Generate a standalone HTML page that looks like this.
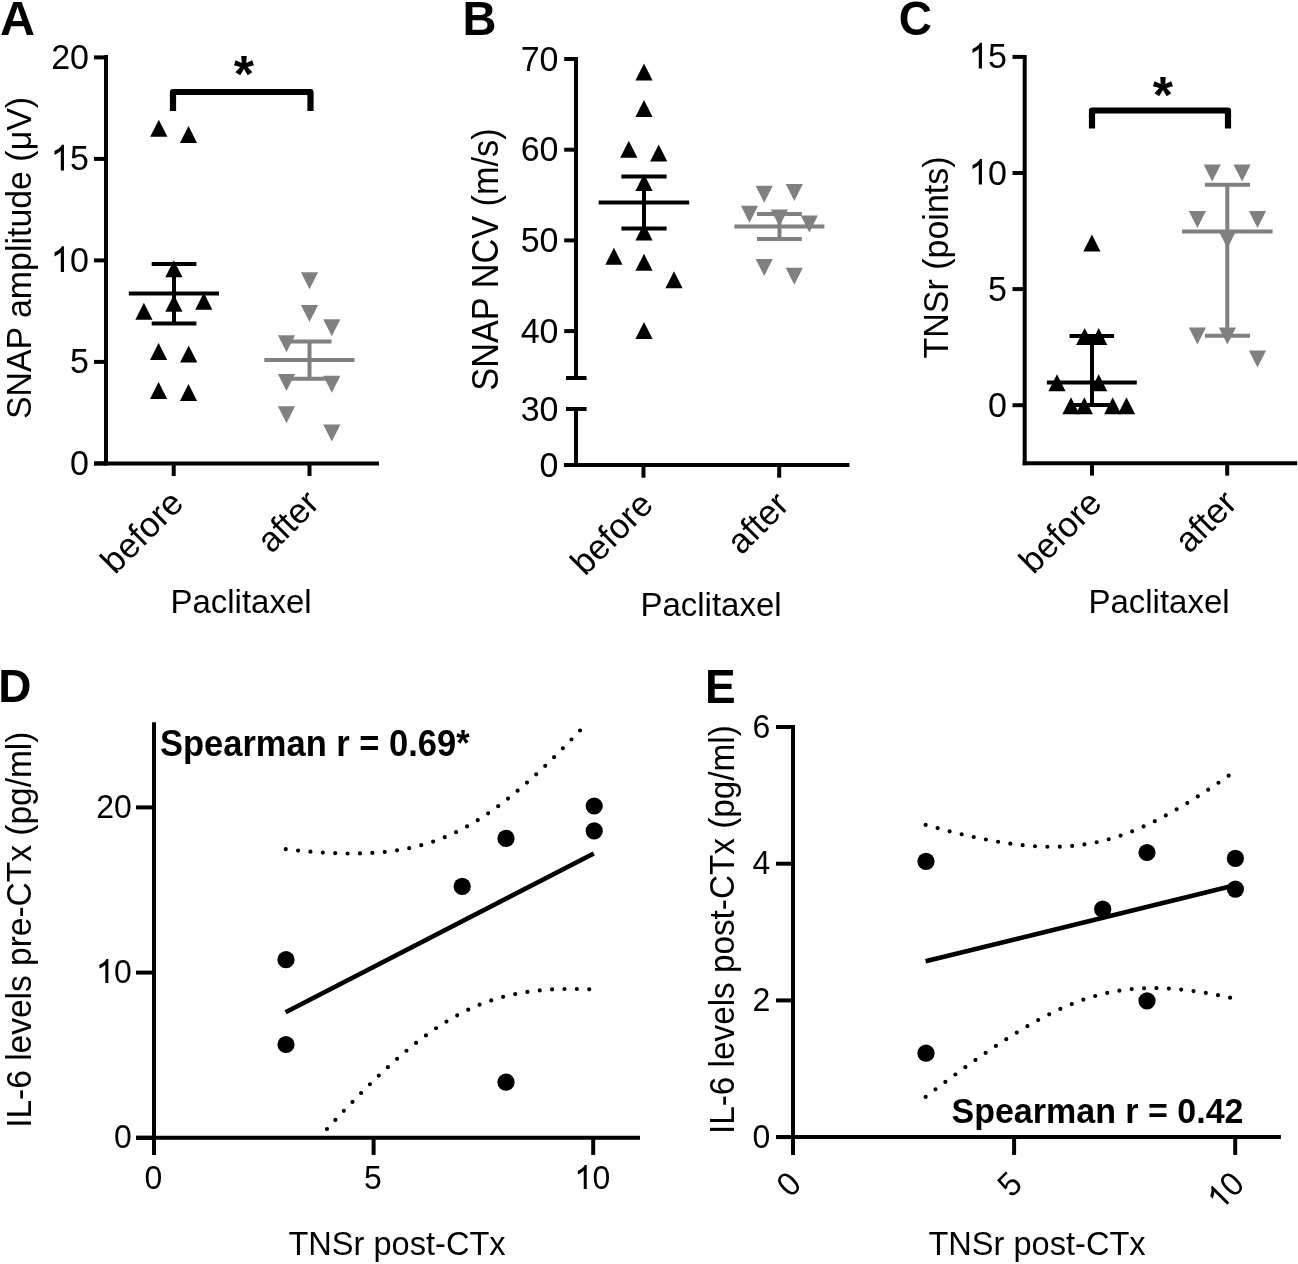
<!DOCTYPE html>
<html><head><meta charset="utf-8"><title>Figure</title>
<style>html,body{margin:0;padding:0;background:#fff;}svg{display:block;will-change:transform;}text{font-family:"Liberation Sans", sans-serif;fill:#000;}</style>
</head><body>
<svg width="1298" height="1264" viewBox="0 0 1298 1264">
<rect width="1298" height="1264" fill="#fff"/>
<text transform="translate(0.00 35.10) scale(1 1.01)" font-size="48.5" text-anchor="start" font-weight="bold">A</text>
<text transform="translate(462.50 34.90) scale(1 1.02)" font-size="47" text-anchor="start" font-weight="bold">B</text>
<text transform="translate(898.80 34.60) scale(1 1.05)" font-size="46" text-anchor="start" font-weight="bold">C</text>
<text transform="translate(-1.80 701.90) scale(1 0.99)" font-size="46" text-anchor="start" font-weight="bold">D</text>
<text transform="translate(704.90 703.30) scale(1 1.04)" font-size="46" text-anchor="start" font-weight="bold">E</text>
<line x1="106.0" y1="55.0" x2="106.0" y2="465.4" stroke="#000" stroke-width="4" stroke-linecap="butt"/>
<line x1="94.0" y1="463.4" x2="379.0" y2="463.4" stroke="#000" stroke-width="4" stroke-linecap="butt"/>
<line x1="94.0" y1="463.4" x2="106.0" y2="463.4" stroke="#000" stroke-width="4" stroke-linecap="butt"/>
<g transform="translate(89.00 474.90) scale(1 1.05)"><text x="-18.91" y="0" font-size="34" text-anchor="start">0</text></g>
<line x1="94.0" y1="361.9" x2="106.0" y2="361.9" stroke="#000" stroke-width="4" stroke-linecap="butt"/>
<g transform="translate(89.00 373.40) scale(1 1.05)"><text x="-18.91" y="0" font-size="34" text-anchor="start">5</text></g>
<line x1="94.0" y1="260.4" x2="106.0" y2="260.4" stroke="#000" stroke-width="4" stroke-linecap="butt"/>
<g transform="translate(89.00 271.90) scale(1 1.05)"><path d="M578 0L771 0L771 1466L646 1466C600 1370 520 1290 420 1225C340 1175 260 1140 200 1115L200 890C300 930 420 1000 500 1055C540 1085 565 1110 578 1125Z" transform="translate(-37.82 0) scale(0.01660 -0.01660)"/><text x="-18.91" y="0" font-size="34" text-anchor="start">0</text></g>
<line x1="94.0" y1="158.9" x2="106.0" y2="158.9" stroke="#000" stroke-width="4" stroke-linecap="butt"/>
<g transform="translate(89.00 170.40) scale(1 1.05)"><path d="M578 0L771 0L771 1466L646 1466C600 1370 520 1290 420 1225C340 1175 260 1140 200 1115L200 890C300 930 420 1000 500 1055C540 1085 565 1110 578 1125Z" transform="translate(-37.82 0) scale(0.01660 -0.01660)"/><text x="-18.91" y="0" font-size="34" text-anchor="start">5</text></g>
<line x1="94.0" y1="57.4" x2="106.0" y2="57.4" stroke="#000" stroke-width="4" stroke-linecap="butt"/>
<g transform="translate(89.00 68.90) scale(1 1.05)"><text x="-37.82" y="0" font-size="34" text-anchor="start">2</text><text x="-18.91" y="0" font-size="34" text-anchor="start">0</text></g>
<line x1="173.7" y1="463.4" x2="173.7" y2="476.0" stroke="#000" stroke-width="4" stroke-linecap="butt"/>
<line x1="309.5" y1="463.4" x2="309.5" y2="476.0" stroke="#000" stroke-width="4" stroke-linecap="butt"/>
<path d="M173 111V92H310.5V111" fill="none" stroke="#000" stroke-width="6.2" stroke-linejoin="round"/>
<text transform="translate(243.90 92.00)" font-size="52" text-anchor="middle" font-weight="bold">*</text>
<path d="M158.8 119.8L167.4 136.8L150.2 136.8Z" fill="#000"/>
<path d="M188.5 126.1L197.1 143.1L179.9 143.1Z" fill="#000"/>
<path d="M173.9 260.3L182.5 277.3L165.3 277.3Z" fill="#000"/>
<path d="M173.9 294.7L182.5 311.7L165.3 311.7Z" fill="#000"/>
<path d="M203.8 292.7L212.4 309.7L195.2 309.7Z" fill="#000"/>
<path d="M143.9 302.7L152.5 319.7L135.3 319.7Z" fill="#000"/>
<path d="M158.6 343.1L167.2 360.1L150.0 360.1Z" fill="#000"/>
<path d="M188.7 345.4L197.3 362.4L180.1 362.4Z" fill="#000"/>
<path d="M158.6 382.1L167.2 399.1L150.0 399.1Z" fill="#000"/>
<path d="M188.5 384.1L197.1 401.1L179.9 401.1Z" fill="#000"/>
<line x1="128.8" y1="293.4" x2="219.0" y2="293.4" stroke="#000" stroke-width="4" stroke-linecap="butt"/>
<line x1="151.7" y1="263.9" x2="196.4" y2="263.9" stroke="#000" stroke-width="4" stroke-linecap="butt"/>
<line x1="151.7" y1="323.6" x2="196.4" y2="323.6" stroke="#000" stroke-width="4" stroke-linecap="butt"/>
<line x1="174.0" y1="263.9" x2="174.0" y2="323.6" stroke="#000" stroke-width="4" stroke-linecap="butt"/>
<path d="M300.9 272.2L318.1 272.2L309.5 289.2Z" fill="#808080"/>
<path d="M300.9 304.9L318.1 304.9L309.5 321.9Z" fill="#808080"/>
<path d="M323.2 319.2L340.4 319.2L331.8 336.2Z" fill="#808080"/>
<path d="M277.9 335.2L295.1 335.2L286.5 352.2Z" fill="#808080"/>
<path d="M277.9 374.0L295.1 374.0L286.5 391.0Z" fill="#808080"/>
<path d="M323.2 375.7L340.4 375.7L331.8 392.7Z" fill="#808080"/>
<path d="M277.9 406.2L295.1 406.2L286.5 423.2Z" fill="#808080"/>
<path d="M323.2 424.5L340.4 424.5L331.8 441.5Z" fill="#808080"/>
<line x1="264.3" y1="360.0" x2="354.4" y2="360.0" stroke="#808080" stroke-width="4" stroke-linecap="butt"/>
<line x1="287.5" y1="341.5" x2="331.5" y2="341.5" stroke="#808080" stroke-width="4" stroke-linecap="butt"/>
<line x1="287.5" y1="378.7" x2="331.5" y2="378.7" stroke="#808080" stroke-width="4" stroke-linecap="butt"/>
<line x1="309.5" y1="341.5" x2="309.5" y2="378.7" stroke="#808080" stroke-width="4" stroke-linecap="butt"/>
<text transform="translate(30.90 258.00) rotate(-90) scale(1 1.05)" font-size="33.9" text-anchor="middle" font-weight="normal">SNAP amplitude (μV)</text>
<text transform="translate(241.00 613.30) scale(1 1.03)" font-size="33" text-anchor="middle" font-weight="normal">Paclitaxel</text>
<text transform="translate(185.30 505.00) rotate(-45)" font-size="35" text-anchor="end" font-weight="normal">before</text>
<text transform="translate(321.10 505.00) rotate(-45)" font-size="35" text-anchor="end" font-weight="normal">after</text>
<line x1="576.0" y1="57.0" x2="576.0" y2="380.0" stroke="#000" stroke-width="4" stroke-linecap="butt"/>
<line x1="576.0" y1="407.0" x2="576.0" y2="465.0" stroke="#000" stroke-width="4" stroke-linecap="butt"/>
<line x1="563.9" y1="465.0" x2="849.4" y2="465.0" stroke="#000" stroke-width="4" stroke-linecap="butt"/>
<line x1="564.2" y1="59.0" x2="576.0" y2="59.0" stroke="#000" stroke-width="4" stroke-linecap="butt"/>
<g transform="translate(558.50 70.50) scale(1 1.05)"><text x="-37.82" y="0" font-size="34" text-anchor="start">7</text><text x="-18.91" y="0" font-size="34" text-anchor="start">0</text></g>
<line x1="564.2" y1="149.7" x2="576.0" y2="149.7" stroke="#000" stroke-width="4" stroke-linecap="butt"/>
<g transform="translate(558.50 161.20) scale(1 1.05)"><text x="-37.82" y="0" font-size="34" text-anchor="start">6</text><text x="-18.91" y="0" font-size="34" text-anchor="start">0</text></g>
<line x1="564.2" y1="240.4" x2="576.0" y2="240.4" stroke="#000" stroke-width="4" stroke-linecap="butt"/>
<g transform="translate(558.50 251.90) scale(1 1.05)"><text x="-37.82" y="0" font-size="34" text-anchor="start">5</text><text x="-18.91" y="0" font-size="34" text-anchor="start">0</text></g>
<line x1="564.2" y1="331.1" x2="576.0" y2="331.1" stroke="#000" stroke-width="4" stroke-linecap="butt"/>
<g transform="translate(558.50 342.60) scale(1 1.05)"><text x="-37.82" y="0" font-size="34" text-anchor="start">4</text><text x="-18.91" y="0" font-size="34" text-anchor="start">0</text></g>
<line x1="566.0" y1="378.0" x2="586.6" y2="378.0" stroke="#000" stroke-width="4" stroke-linecap="butt"/>
<line x1="566.0" y1="409.0" x2="586.6" y2="409.0" stroke="#000" stroke-width="4" stroke-linecap="butt"/>
<g transform="translate(558.50 420.50) scale(1 1.05)"><text x="-37.82" y="0" font-size="34" text-anchor="start">3</text><text x="-18.91" y="0" font-size="34" text-anchor="start">0</text></g>
<g transform="translate(558.50 476.50) scale(1 1.05)"><text x="-18.91" y="0" font-size="34" text-anchor="start">0</text></g>
<line x1="643.5" y1="465.0" x2="643.5" y2="477.7" stroke="#000" stroke-width="4" stroke-linecap="butt"/>
<line x1="779.2" y1="465.0" x2="779.2" y2="477.7" stroke="#000" stroke-width="4" stroke-linecap="butt"/>
<path d="M644.0 63.4L652.6 80.4L635.4 80.4Z" fill="#000"/>
<path d="M644.0 99.9L652.6 116.9L635.4 116.9Z" fill="#000"/>
<path d="M628.8 140.7L637.4 157.7L620.2 157.7Z" fill="#000"/>
<path d="M658.7 144.6L667.3 161.6L650.1 161.6Z" fill="#000"/>
<path d="M644.0 174.1L652.6 191.1L635.4 191.1Z" fill="#000"/>
<path d="M644.0 223.5L652.6 240.5L635.4 240.5Z" fill="#000"/>
<path d="M613.9 247.7L622.5 264.7L605.3 264.7Z" fill="#000"/>
<path d="M644.0 253.8L652.6 270.8L635.4 270.8Z" fill="#000"/>
<path d="M674.0 271.3L682.6 288.3L665.4 288.3Z" fill="#000"/>
<path d="M644.0 321.9L652.6 338.9L635.4 338.9Z" fill="#000"/>
<line x1="598.7" y1="202.4" x2="689.2" y2="202.4" stroke="#000" stroke-width="4" stroke-linecap="butt"/>
<line x1="621.4" y1="176.6" x2="666.6" y2="176.6" stroke="#000" stroke-width="4" stroke-linecap="butt"/>
<line x1="621.4" y1="228.6" x2="666.6" y2="228.6" stroke="#000" stroke-width="4" stroke-linecap="butt"/>
<line x1="644.0" y1="176.6" x2="644.0" y2="228.6" stroke="#000" stroke-width="4" stroke-linecap="butt"/>
<path d="M755.6 185.7L772.8 185.7L764.2 202.7Z" fill="#808080"/>
<path d="M785.7 183.9L802.9 183.9L794.3 200.9Z" fill="#808080"/>
<path d="M740.9 205.8L758.1 205.8L749.5 222.8Z" fill="#808080"/>
<path d="M770.8 209.4L788.0 209.4L779.4 226.4Z" fill="#808080"/>
<path d="M800.7 215.5L817.9 215.5L809.3 232.5Z" fill="#808080"/>
<path d="M755.6 258.9L772.8 258.9L764.2 275.9Z" fill="#808080"/>
<path d="M785.7 267.8L802.9 267.8L794.3 284.8Z" fill="#808080"/>
<line x1="734.4" y1="226.5" x2="824.4" y2="226.5" stroke="#808080" stroke-width="4" stroke-linecap="butt"/>
<line x1="757.0" y1="214.0" x2="801.8" y2="214.0" stroke="#808080" stroke-width="4" stroke-linecap="butt"/>
<line x1="757.0" y1="239.0" x2="801.8" y2="239.0" stroke="#808080" stroke-width="4" stroke-linecap="butt"/>
<line x1="779.5" y1="214.0" x2="779.5" y2="239.0" stroke="#808080" stroke-width="4" stroke-linecap="butt"/>
<text transform="translate(497.80 259.50) rotate(-90) scale(1 1.05)" font-size="34.3" text-anchor="middle" font-weight="normal">SNAP NCV (m/s)</text>
<text transform="translate(711.00 615.80) scale(1 1.03)" font-size="33" text-anchor="middle" font-weight="normal">Paclitaxel</text>
<text transform="translate(655.10 506.50) rotate(-45)" font-size="35" text-anchor="end" font-weight="normal">before</text>
<text transform="translate(790.80 506.50) rotate(-45)" font-size="35" text-anchor="end" font-weight="normal">after</text>
<line x1="1024.7" y1="55.0" x2="1024.7" y2="465.3" stroke="#000" stroke-width="4" stroke-linecap="butt"/>
<line x1="1022.7" y1="463.3" x2="1297.2" y2="463.3" stroke="#000" stroke-width="4" stroke-linecap="butt"/>
<line x1="1012.5" y1="405.2" x2="1024.7" y2="405.2" stroke="#000" stroke-width="4" stroke-linecap="butt"/>
<g transform="translate(1007.00 416.70) scale(1 1.05)"><text x="-18.91" y="0" font-size="34" text-anchor="start">0</text></g>
<line x1="1012.5" y1="289.1" x2="1024.7" y2="289.1" stroke="#000" stroke-width="4" stroke-linecap="butt"/>
<g transform="translate(1007.00 300.60) scale(1 1.05)"><text x="-18.91" y="0" font-size="34" text-anchor="start">5</text></g>
<line x1="1012.5" y1="173.0" x2="1024.7" y2="173.0" stroke="#000" stroke-width="4" stroke-linecap="butt"/>
<g transform="translate(1007.00 184.50) scale(1 1.05)"><path d="M578 0L771 0L771 1466L646 1466C600 1370 520 1290 420 1225C340 1175 260 1140 200 1115L200 890C300 930 420 1000 500 1055C540 1085 565 1110 578 1125Z" transform="translate(-37.82 0) scale(0.01660 -0.01660)"/><text x="-18.91" y="0" font-size="34" text-anchor="start">0</text></g>
<line x1="1012.5" y1="56.9" x2="1024.7" y2="56.9" stroke="#000" stroke-width="4" stroke-linecap="butt"/>
<g transform="translate(1007.00 68.40) scale(1 1.05)"><path d="M578 0L771 0L771 1466L646 1466C600 1370 520 1290 420 1225C340 1175 260 1140 200 1115L200 890C300 930 420 1000 500 1055C540 1085 565 1110 578 1125Z" transform="translate(-37.82 0) scale(0.01660 -0.01660)"/><text x="-18.91" y="0" font-size="34" text-anchor="start">5</text></g>
<line x1="1092.0" y1="463.3" x2="1092.0" y2="475.6" stroke="#000" stroke-width="4" stroke-linecap="butt"/>
<line x1="1227.2" y1="463.3" x2="1227.2" y2="475.6" stroke="#000" stroke-width="4" stroke-linecap="butt"/>
<path d="M1092 128.6V110.5H1228V128.6" fill="none" stroke="#000" stroke-width="6.2" stroke-linejoin="round"/>
<text transform="translate(1162.90 113.30)" font-size="52" text-anchor="middle" font-weight="bold">*</text>
<path d="M1091.9 234.4L1100.5 251.4L1083.3 251.4Z" fill="#000"/>
<path d="M1084.7 328.0L1093.3 345.0L1076.1 345.0Z" fill="#000"/>
<path d="M1098.7 328.0L1107.3 345.0L1090.1 345.0Z" fill="#000"/>
<path d="M1057.0 374.2L1065.6 391.2L1048.4 391.2Z" fill="#000"/>
<path d="M1098.7 374.2L1107.3 391.2L1090.1 391.2Z" fill="#000"/>
<path d="M1071.0 397.3L1079.6 414.3L1062.4 414.3Z" fill="#000"/>
<path d="M1084.3 397.3L1092.9 414.3L1075.7 414.3Z" fill="#000"/>
<path d="M1112.7 397.3L1121.3 414.3L1104.1 414.3Z" fill="#000"/>
<path d="M1126.5 397.3L1135.1 414.3L1117.9 414.3Z" fill="#000"/>
<line x1="1046.9" y1="382.5" x2="1136.8" y2="382.5" stroke="#000" stroke-width="4" stroke-linecap="butt"/>
<line x1="1069.5" y1="336.0" x2="1114.1" y2="336.0" stroke="#000" stroke-width="4" stroke-linecap="butt"/>
<line x1="1069.5" y1="405.0" x2="1114.1" y2="405.0" stroke="#000" stroke-width="4" stroke-linecap="butt"/>
<line x1="1092.0" y1="336.0" x2="1092.0" y2="405.0" stroke="#000" stroke-width="4" stroke-linecap="butt"/>
<path d="M1203.6 164.4L1220.8 164.4L1212.2 181.4Z" fill="#808080"/>
<path d="M1233.5 164.4L1250.7 164.4L1242.1 181.4Z" fill="#808080"/>
<path d="M1188.8 210.9L1206.0 210.9L1197.4 227.9Z" fill="#808080"/>
<path d="M1248.9 210.9L1266.1 210.9L1257.5 227.9Z" fill="#808080"/>
<path d="M1218.8 231.3L1236.0 231.3L1227.4 248.3Z" fill="#808080"/>
<path d="M1188.8 327.5L1206.0 327.5L1197.4 344.5Z" fill="#808080"/>
<path d="M1218.8 327.5L1236.0 327.5L1227.4 344.5Z" fill="#808080"/>
<path d="M1248.9 350.5L1266.1 350.5L1257.5 367.5Z" fill="#808080"/>
<line x1="1182.1" y1="231.4" x2="1272.6" y2="231.4" stroke="#808080" stroke-width="4" stroke-linecap="butt"/>
<line x1="1204.9" y1="184.8" x2="1250.0" y2="184.8" stroke="#808080" stroke-width="4" stroke-linecap="butt"/>
<line x1="1204.9" y1="335.8" x2="1250.0" y2="335.8" stroke="#808080" stroke-width="4" stroke-linecap="butt"/>
<line x1="1227.3" y1="184.8" x2="1227.3" y2="335.8" stroke="#808080" stroke-width="4" stroke-linecap="butt"/>
<text transform="translate(948.40 257.50) rotate(-90) scale(1 1.05)" font-size="34" text-anchor="middle" font-weight="normal">TNSr (points)</text>
<text transform="translate(1159.00 613.30) scale(1 1.03)" font-size="33" text-anchor="middle" font-weight="normal">Paclitaxel</text>
<text transform="translate(1103.60 505.00) rotate(-45)" font-size="35" text-anchor="end" font-weight="normal">before</text>
<text transform="translate(1238.80 505.00) rotate(-45)" font-size="35" text-anchor="end" font-weight="normal">after</text>
<line x1="154.0" y1="722.2" x2="154.0" y2="1154.9" stroke="#000" stroke-width="4" stroke-linecap="butt"/>
<line x1="136.0" y1="1137.8" x2="640.0" y2="1137.8" stroke="#000" stroke-width="4" stroke-linecap="butt"/>
<line x1="136.0" y1="1137.8" x2="154.0" y2="1137.8" stroke="#000" stroke-width="4" stroke-linecap="butt"/>
<g transform="translate(131.90 1148.30) scale(1 1.05)"><text x="-17.80" y="0" font-size="32" text-anchor="start">0</text></g>
<line x1="136.0" y1="972.6" x2="154.0" y2="972.6" stroke="#000" stroke-width="4" stroke-linecap="butt"/>
<g transform="translate(131.90 983.10) scale(1 1.05)"><path d="M578 0L771 0L771 1466L646 1466C600 1370 520 1290 420 1225C340 1175 260 1140 200 1115L200 890C300 930 420 1000 500 1055C540 1085 565 1110 578 1125Z" transform="translate(-35.59 0) scale(0.01562 -0.01562)"/><text x="-17.80" y="0" font-size="32" text-anchor="start">0</text></g>
<line x1="136.0" y1="807.4" x2="154.0" y2="807.4" stroke="#000" stroke-width="4" stroke-linecap="butt"/>
<g transform="translate(131.90 817.90) scale(1 1.05)"><text x="-35.59" y="0" font-size="32" text-anchor="start">2</text><text x="-17.80" y="0" font-size="32" text-anchor="start">0</text></g>
<line x1="373.6" y1="1137.8" x2="373.6" y2="1154.9" stroke="#000" stroke-width="4" stroke-linecap="butt"/>
<line x1="593.2" y1="1137.8" x2="593.2" y2="1154.9" stroke="#000" stroke-width="4" stroke-linecap="butt"/>
<g transform="translate(153.30 1189.00) scale(1 1.05)"><text x="-8.90" y="0" font-size="32" text-anchor="start">0</text></g>
<g transform="translate(372.90 1189.00) scale(1 1.05)"><text x="-8.90" y="0" font-size="32" text-anchor="start">5</text></g>
<g transform="translate(592.50 1189.00) scale(1 1.05)"><path d="M578 0L771 0L771 1466L646 1466C600 1370 520 1290 420 1225C340 1175 260 1140 200 1115L200 890C300 930 420 1000 500 1055C540 1085 565 1110 578 1125Z" transform="translate(-17.80 0) scale(0.01562 -0.01562)"/><text x="0.00" y="0" font-size="32" text-anchor="start">0</text></g>
<clipPath id="cD"><rect x="154" y="724.8" width="500" height="413.0"/></clipPath>
<g clip-path="url(#cD)" fill="none" stroke="#000" stroke-width="4.2" stroke-linecap="round" stroke-dasharray="0 12.4"><path d="M285.76 849.20L287.96 849.45L290.15 849.69L292.35 849.93L294.54 850.17L296.74 850.40L298.94 850.62L301.13 850.83L303.33 851.04L305.52 851.24L307.72 851.44L309.92 851.63L312.11 851.81L314.31 851.98L316.50 852.14L318.70 852.30L320.90 852.45L323.09 852.59L325.29 852.72L327.48 852.85L329.68 852.96L331.88 853.06L334.07 853.16L336.27 853.24L338.46 853.32L340.66 853.38L342.86 853.44L345.05 853.48L347.25 853.51L349.44 853.53L351.64 853.53L353.84 853.53L356.03 853.51L358.23 853.48L360.42 853.44L362.62 853.38L364.82 853.31L367.01 853.22L369.21 853.12L371.40 853.00L373.60 852.87L375.80 852.72L377.99 852.55L380.19 852.37L382.38 852.17L384.58 851.95L386.78 851.71L388.97 851.46L391.17 851.18L393.36 850.89L395.56 850.57L397.76 850.24L399.95 849.88L402.15 849.50L404.34 849.10L406.54 848.68L408.74 848.23L410.93 847.76L413.13 847.26L415.32 846.74L417.52 846.20L419.72 845.63L421.91 845.03L424.11 844.41L426.30 843.76L428.50 843.08L430.70 842.38L432.89 841.65L435.09 840.88L437.28 840.09L439.48 839.28L441.68 838.43L443.87 837.55L446.07 836.64L448.26 835.70L450.46 834.73L452.66 833.74L454.85 832.71L457.05 831.65L459.24 830.55L461.44 829.43L463.64 828.28L465.83 827.10L468.03 825.88L470.22 824.64L472.42 823.36L474.62 822.05L476.81 820.72L479.01 819.35L481.20 817.95L483.40 816.53L485.60 815.07L487.79 813.58L489.99 812.07L492.18 810.53L494.38 808.96L496.58 807.36L498.77 805.73L500.97 804.08L503.16 802.40L505.36 800.70L507.56 798.97L509.75 797.21L511.95 795.43L514.14 793.63L516.34 791.80L518.54 789.95L520.73 788.07L522.93 786.18L525.12 784.26L527.32 782.32L529.52 780.36L531.71 778.38L533.91 776.38L536.10 774.36L538.30 772.32L540.50 770.27L542.69 768.19L544.89 766.10L547.08 763.99L549.28 761.86L551.48 759.72L553.67 757.57L555.87 755.39L558.06 753.20L560.26 751.00L562.46 748.78L564.65 746.55L566.85 744.31L569.04 742.05L571.24 739.78L573.44 737.50L575.63 735.21L577.83 732.90L580.02 730.58L582.22 728.25L584.42 725.92L586.61 723.57L588.81 721.21L591.00 718.84L593.20 716.46"/><path d="M285.76 1175.30L287.96 1172.77L290.15 1170.25L292.35 1167.74L294.54 1165.23L296.74 1162.73L298.94 1160.23L301.13 1157.74L303.33 1155.25L305.52 1152.78L307.72 1150.31L309.92 1147.84L312.11 1145.39L314.31 1142.94L316.50 1140.50L318.70 1138.07L320.90 1135.64L323.09 1133.23L325.29 1130.82L327.48 1128.42L329.68 1126.04L331.88 1123.66L334.07 1121.29L336.27 1118.93L338.46 1116.58L340.66 1114.24L342.86 1111.91L345.05 1109.59L347.25 1107.29L349.44 1104.99L351.64 1102.71L353.84 1100.44L356.03 1098.18L358.23 1095.94L360.42 1093.71L362.62 1091.49L364.82 1089.29L367.01 1087.10L369.21 1084.93L371.40 1082.77L373.60 1080.63L375.80 1078.50L377.99 1076.39L380.19 1074.30L382.38 1072.23L384.58 1070.17L386.78 1068.13L388.97 1066.11L391.17 1064.11L393.36 1062.13L395.56 1060.17L397.76 1058.23L399.95 1056.31L402.15 1054.42L404.34 1052.54L406.54 1050.69L408.74 1048.87L410.93 1047.06L413.13 1045.28L415.32 1043.53L417.52 1041.80L419.72 1040.09L421.91 1038.41L424.11 1036.76L426.30 1035.13L428.50 1033.54L430.70 1031.96L432.89 1030.42L435.09 1028.91L437.28 1027.42L439.48 1025.97L441.68 1024.54L443.87 1023.14L446.07 1021.78L448.26 1020.44L450.46 1019.13L452.66 1017.86L454.85 1016.61L457.05 1015.40L459.24 1014.21L461.44 1013.06L463.64 1011.94L465.83 1010.85L468.03 1009.79L470.22 1008.76L472.42 1007.76L474.62 1006.79L476.81 1005.85L479.01 1004.94L481.20 1004.07L483.40 1003.22L485.60 1002.40L487.79 1001.61L489.99 1000.85L492.18 1000.11L494.38 999.41L496.58 998.73L498.77 998.08L500.97 997.46L503.16 996.86L505.36 996.29L507.56 995.75L509.75 995.23L511.95 994.74L514.14 994.26L516.34 993.82L518.54 993.39L520.73 992.99L522.93 992.61L525.12 992.26L527.32 991.92L529.52 991.61L531.71 991.31L533.91 991.04L536.10 990.78L538.30 990.54L540.50 990.32L542.69 990.12L544.89 989.94L547.08 989.78L549.28 989.63L551.48 989.49L553.67 989.38L555.87 989.27L558.06 989.19L560.26 989.11L562.46 989.06L564.65 989.01L566.85 988.98L569.04 988.96L571.24 988.96L573.44 988.97L575.63 988.98L577.83 989.02L580.02 989.06L582.22 989.11L584.42 989.17L586.61 989.25L588.81 989.33L591.00 989.43L593.20 989.53"/></g>
<line x1="285.6" y1="1012.2" x2="593.8" y2="853.5" stroke="#000" stroke-width="4.6" stroke-linecap="butt"/>
<circle cx="286.0" cy="959.7" r="8.6" fill="#000"/>
<circle cx="286.0" cy="1044.5" r="8.6" fill="#000"/>
<circle cx="462.2" cy="886.4" r="8.6" fill="#000"/>
<circle cx="506.0" cy="838.4" r="8.6" fill="#000"/>
<circle cx="506.0" cy="1082.2" r="8.6" fill="#000"/>
<circle cx="594.2" cy="806.0" r="8.6" fill="#000"/>
<circle cx="594.2" cy="830.9" r="8.6" fill="#000"/>
<text transform="translate(160.00 755.50) scale(1 1.05)" font-size="34.5" text-anchor="start" font-weight="bold">Spearman r = 0.69*</text>
<text transform="translate(30.60 929.70) rotate(-90) scale(1 1.05)" font-size="33.5" text-anchor="middle" font-weight="normal">IL-6 levels pre-CTx (pg/ml)</text>
<text transform="translate(397.00 1254.80)" font-size="32.6" text-anchor="middle" font-weight="normal">TNSr post-CTx</text>
<line x1="793.0" y1="725.0" x2="793.0" y2="1154.9" stroke="#000" stroke-width="4" stroke-linecap="butt"/>
<line x1="776.0" y1="1137.1" x2="1280.9" y2="1137.1" stroke="#000" stroke-width="4" stroke-linecap="butt"/>
<line x1="776.0" y1="1137.1" x2="793.0" y2="1137.1" stroke="#000" stroke-width="4" stroke-linecap="butt"/>
<g transform="translate(770.40 1147.60) scale(1 1.05)"><text x="-17.80" y="0" font-size="32" text-anchor="start">0</text></g>
<line x1="776.0" y1="1000.4" x2="793.0" y2="1000.4" stroke="#000" stroke-width="4" stroke-linecap="butt"/>
<g transform="translate(770.40 1010.90) scale(1 1.05)"><text x="-17.80" y="0" font-size="32" text-anchor="start">2</text></g>
<line x1="776.0" y1="863.7" x2="793.0" y2="863.7" stroke="#000" stroke-width="4" stroke-linecap="butt"/>
<g transform="translate(770.40 874.20) scale(1 1.05)"><text x="-17.80" y="0" font-size="32" text-anchor="start">4</text></g>
<line x1="776.0" y1="727.0" x2="793.0" y2="727.0" stroke="#000" stroke-width="4" stroke-linecap="butt"/>
<g transform="translate(770.40 737.50) scale(1 1.05)"><text x="-17.80" y="0" font-size="32" text-anchor="start">6</text></g>
<line x1="1014.1" y1="1137.1" x2="1014.1" y2="1154.9" stroke="#000" stroke-width="4" stroke-linecap="butt"/>
<line x1="1235.2" y1="1137.1" x2="1235.2" y2="1154.9" stroke="#000" stroke-width="4" stroke-linecap="butt"/>
<g transform="translate(803.00 1186.00) rotate(-45) scale(1 1.05)"><text x="-17.80" y="0" font-size="32" text-anchor="start">0</text></g>
<g transform="translate(1024.00 1186.00) rotate(-45) scale(1 1.05)"><text x="-17.80" y="0" font-size="32" text-anchor="start">5</text></g>
<g transform="translate(1246.00 1186.00) rotate(-45) scale(1 1.05)"><path d="M578 0L771 0L771 1466L646 1466C600 1370 520 1290 420 1225C340 1175 260 1140 200 1115L200 890C300 930 420 1000 500 1055C540 1085 565 1110 578 1125Z" transform="translate(-35.59 0) scale(0.01562 -0.01562)"/><text x="-17.80" y="0" font-size="32" text-anchor="start">0</text></g>
<g fill="none" stroke="#000" stroke-width="4.2" stroke-linecap="round" stroke-dasharray="0 12.4"><path d="M925.66 824.88L927.87 825.49L930.08 826.10L932.29 826.71L934.50 827.31L936.72 827.91L938.93 828.50L941.14 829.08L943.35 829.67L945.56 830.24L947.77 830.81L949.98 831.37L952.19 831.93L954.40 832.48L956.61 833.02L958.83 833.56L961.04 834.09L963.25 834.61L965.46 835.13L967.67 835.64L969.88 836.14L972.09 836.63L974.30 837.12L976.51 837.59L978.72 838.06L980.93 838.52L983.15 838.97L985.36 839.41L987.57 839.84L989.78 840.27L991.99 840.68L994.20 841.08L996.41 841.47L998.62 841.85L1000.83 842.22L1003.04 842.58L1005.26 842.92L1007.47 843.26L1009.68 843.58L1011.89 843.88L1014.10 844.18L1016.31 844.46L1018.52 844.73L1020.73 844.98L1022.94 845.22L1025.15 845.45L1027.37 845.65L1029.58 845.85L1031.79 846.02L1034.00 846.18L1036.21 846.33L1038.42 846.45L1040.63 846.56L1042.84 846.65L1045.05 846.72L1047.26 846.77L1049.48 846.81L1051.69 846.82L1053.90 846.81L1056.11 846.79L1058.32 846.74L1060.53 846.67L1062.74 846.58L1064.95 846.46L1067.16 846.33L1069.38 846.17L1071.59 845.99L1073.80 845.78L1076.01 845.55L1078.22 845.30L1080.43 845.02L1082.64 844.72L1084.85 844.40L1087.06 844.04L1089.27 843.67L1091.49 843.27L1093.70 842.84L1095.91 842.39L1098.12 841.91L1100.33 841.40L1102.54 840.87L1104.75 840.32L1106.96 839.73L1109.17 839.13L1111.38 838.49L1113.60 837.84L1115.81 837.15L1118.02 836.44L1120.23 835.71L1122.44 834.95L1124.65 834.17L1126.86 833.36L1129.07 832.52L1131.28 831.67L1133.49 830.79L1135.70 829.88L1137.92 828.95L1140.13 828.00L1142.34 827.03L1144.55 826.04L1146.76 825.02L1148.97 823.98L1151.18 822.93L1153.39 821.85L1155.60 820.75L1157.82 819.63L1160.03 818.49L1162.24 817.33L1164.45 816.16L1166.66 814.96L1168.87 813.75L1171.08 812.52L1173.29 811.28L1175.50 810.02L1177.71 808.74L1179.92 807.44L1182.14 806.13L1184.35 804.81L1186.56 803.47L1188.77 802.12L1190.98 800.75L1193.19 799.37L1195.40 797.97L1197.61 796.57L1199.82 795.15L1202.03 793.72L1204.25 792.27L1206.46 790.82L1208.67 789.35L1210.88 787.88L1213.09 786.39L1215.30 784.89L1217.51 783.38L1219.72 781.86L1221.93 780.34L1224.14 778.80L1226.36 777.26L1228.57 775.70L1230.78 774.14L1232.99 772.57L1235.20 770.99"/><path d="M925.66 1096.91L927.87 1095.21L930.08 1093.51L932.29 1091.82L934.50 1090.13L936.72 1088.45L938.93 1086.77L941.14 1085.10L943.35 1083.44L945.56 1081.78L947.77 1080.12L949.98 1078.47L952.19 1076.83L954.40 1075.19L956.61 1073.57L958.83 1071.94L961.04 1070.33L963.25 1068.72L965.46 1067.12L967.67 1065.52L969.88 1063.93L972.09 1062.36L974.30 1060.78L976.51 1059.22L978.72 1057.67L980.93 1056.12L983.15 1054.59L985.36 1053.06L987.57 1051.54L989.78 1050.03L991.99 1048.54L994.20 1047.05L996.41 1045.57L998.62 1044.11L1000.83 1042.65L1003.04 1041.21L1005.26 1039.78L1007.47 1038.36L1009.68 1036.95L1011.89 1035.56L1014.10 1034.18L1016.31 1032.81L1018.52 1031.46L1020.73 1030.12L1022.94 1028.79L1025.15 1027.48L1027.37 1026.19L1029.58 1024.91L1031.79 1023.65L1034.00 1022.40L1036.21 1021.17L1038.42 1019.96L1040.63 1018.77L1042.84 1017.59L1045.05 1016.43L1047.26 1015.30L1049.48 1014.18L1051.69 1013.08L1053.90 1012.00L1056.11 1010.94L1058.32 1009.90L1060.53 1008.89L1062.74 1007.89L1064.95 1006.92L1067.16 1005.97L1069.38 1005.04L1071.59 1004.14L1073.80 1003.26L1076.01 1002.40L1078.22 1001.57L1080.43 1000.76L1082.64 999.97L1084.85 999.22L1087.06 998.48L1089.27 997.77L1091.49 997.09L1093.70 996.43L1095.91 995.80L1098.12 995.19L1100.33 994.61L1102.54 994.05L1104.75 993.52L1106.96 993.02L1109.17 992.54L1111.38 992.09L1113.60 991.66L1115.81 991.26L1118.02 990.88L1120.23 990.53L1122.44 990.20L1124.65 989.90L1126.86 989.62L1129.07 989.37L1131.28 989.14L1133.49 988.94L1135.70 988.76L1137.92 988.60L1140.13 988.46L1142.34 988.35L1144.55 988.26L1146.76 988.19L1148.97 988.14L1151.18 988.11L1153.39 988.10L1155.60 988.12L1157.82 988.15L1160.03 988.20L1162.24 988.27L1164.45 988.36L1166.66 988.47L1168.87 988.60L1171.08 988.74L1173.29 988.90L1175.50 989.08L1177.71 989.27L1179.92 989.48L1182.14 989.70L1184.35 989.94L1186.56 990.20L1188.77 990.46L1190.98 990.74L1193.19 991.04L1195.40 991.35L1197.61 991.67L1199.82 992.00L1202.03 992.35L1204.25 992.71L1206.46 993.07L1208.67 993.45L1210.88 993.85L1213.09 994.25L1215.30 994.66L1217.51 995.08L1219.72 995.51L1221.93 995.95L1224.14 996.40L1226.36 996.86L1228.57 997.33L1230.78 997.81L1232.99 998.29L1235.20 998.79"/></g>
<line x1="925.6" y1="961.3" x2="1235.0" y2="885.3" stroke="#000" stroke-width="4.6" stroke-linecap="butt"/>
<circle cx="926.0" cy="861.3" r="8.6" fill="#000"/>
<circle cx="926.0" cy="1053.2" r="8.6" fill="#000"/>
<circle cx="1102.7" cy="909.2" r="8.6" fill="#000"/>
<circle cx="1147.0" cy="852.5" r="8.6" fill="#000"/>
<circle cx="1147.0" cy="1000.8" r="8.6" fill="#000"/>
<circle cx="1235.4" cy="858.4" r="8.6" fill="#000"/>
<circle cx="1235.4" cy="889.1" r="8.6" fill="#000"/>
<text transform="translate(951.50 1123.00) scale(1 1.05)" font-size="34" text-anchor="start" font-weight="bold">Spearman r = 0.42</text>
<text transform="translate(733.50 929.60) rotate(-90) scale(1 1.05)" font-size="33.3" text-anchor="middle" font-weight="normal">IL-6 levels post-CTx (pg/ml)</text>
<text transform="translate(1037.00 1254.80)" font-size="32.6" text-anchor="middle" font-weight="normal">TNSr post-CTx</text>
</svg>
</body></html>
